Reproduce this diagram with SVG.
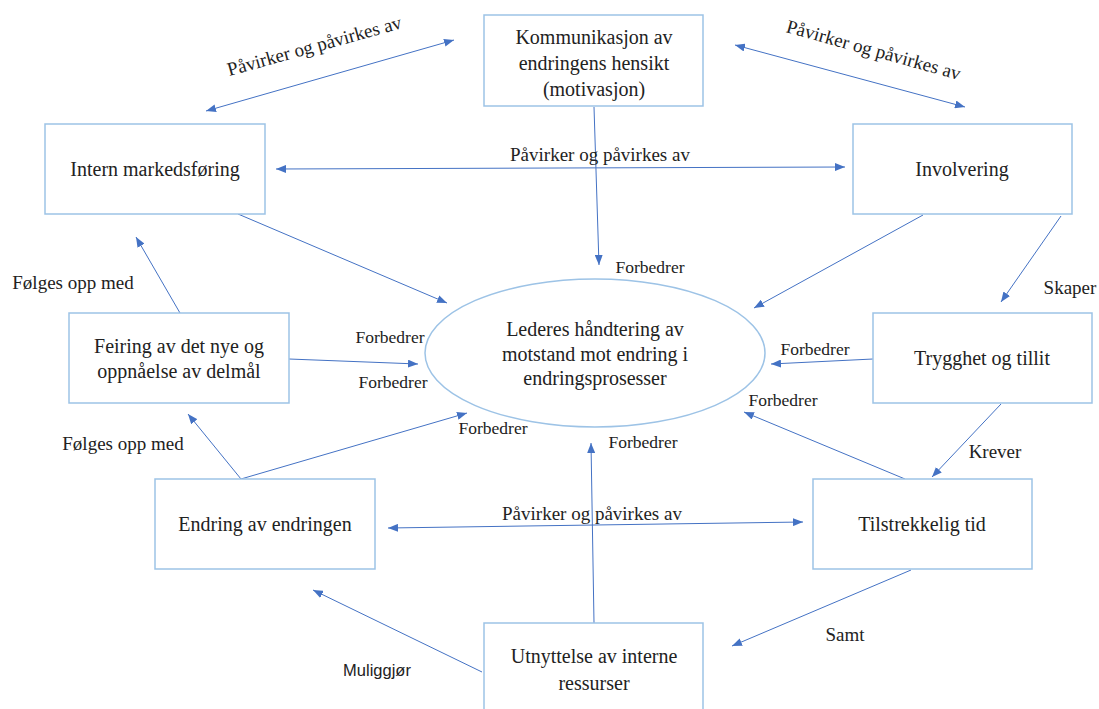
<svg xmlns="http://www.w3.org/2000/svg" width="1099" height="709" viewBox="0 0 1099 709">
  <defs>
    <marker id="arrow" viewBox="0 0 10 8" refX="10" refY="4" markerWidth="10" markerHeight="8" markerUnits="userSpaceOnUse" orient="auto-start-reverse">
      <path d="M0,0 L10,4 L0,8 Z" fill="#4472C4"/>
    </marker>
    <style>
      .box { fill: #ffffff; stroke: #9DC3E6; stroke-width: 1.5; }
      .ell { fill: #ffffff; stroke: #9DC3E6; stroke-width: 1.5; }
      .t { font-family: "Liberation Serif", "Times New Roman", serif; font-size: 20px; fill: #222222; text-anchor: middle; }
      .lbl { font-family: "Liberation Serif", "Times New Roman", serif; font-size: 19px; fill: #222222; text-anchor: middle; }
      .small { font-family: "Liberation Serif", "Times New Roman", serif; font-size: 17.5px; fill: #222222; text-anchor: middle; }
      .sans { font-family: "Liberation Sans", Arial, sans-serif; font-size: 16.5px; fill: #222222; text-anchor: middle; }
      .c { fill: none; stroke: #4472C4; stroke-width: 1; }
      .one { marker-end: url(#arrow); }
      .two { marker-start: url(#arrow); marker-end: url(#arrow); }
    </style>
  </defs>

  <rect width="1099" height="709" fill="#ffffff"/>

  <!-- connectors -->
  <g id="connectors">
    <line class="c two" x1="206" y1="111" x2="454" y2="40"/>
    <line class="c two" x1="735" y1="45" x2="965" y2="107"/>
    <line class="c two" x1="276" y1="169" x2="845" y2="167"/>
    <line class="c one" x1="594" y1="107" x2="599" y2="265"/>
    <line class="c one" x1="238" y1="214" x2="447" y2="303"/>
    <line class="c one" x1="923" y1="215" x2="754" y2="308"/>
    <line class="c one" x1="1061" y1="216" x2="1001" y2="302"/>
    <line class="c one" x1="873" y1="359" x2="771" y2="364"/>
    <line class="c one" x1="905" y1="479" x2="744" y2="412"/>
    <line class="c one" x1="1001" y1="404" x2="932" y2="477"/>
    <line class="c one" x1="911" y1="570" x2="732" y2="646"/>
    <line class="c one" x1="482" y1="672" x2="313" y2="590"/>
    <line class="c one" x1="594" y1="623" x2="591" y2="443"/>
    <line class="c one" x1="241" y1="479" x2="188" y2="414"/>
    <line class="c one" x1="241" y1="479" x2="467" y2="413"/>
    <line class="c one" x1="289" y1="359" x2="418" y2="364"/>
    <line class="c one" x1="180" y1="313" x2="136" y2="237"/>
    <line class="c two" x1="388" y1="528" x2="803" y2="522"/>

    <!-- connector labels -->
    <text class="lbl" transform="translate(316,52) rotate(-15.5)">Påvirker og påvirkes av</text>
    <text class="lbl" transform="translate(872,56) rotate(15.5)">Påvirker og påvirkes av</text>
    <text class="lbl" x="600" y="161">Påvirker og påvirkes av</text>
    <text class="lbl" x="592" y="520">Påvirker og påvirkes av</text>
    <text class="small" x="650" y="273">Forbedrer</text>
    <text class="small" x="390" y="343">Forbedrer</text>
    <text class="small" x="393" y="388">Forbedrer</text>
    <text class="small" x="815" y="355">Forbedrer</text>
    <text class="small" x="783" y="406">Forbedrer</text>
    <text class="small" x="493" y="434">Forbedrer</text>
    <text class="small" x="643" y="448">Forbedrer</text>
    <text class="lbl" x="73" y="289">Følges opp med</text>
    <text class="lbl" x="123" y="450">Følges opp med</text>
    <text class="lbl" x="995" y="458">Krever</text>
    <text class="lbl" x="845" y="641">Samt</text>
    <text class="lbl" x="1070" y="294">Skaper</text>
    <text class="sans" x="377" y="676">Muliggjør</text>
  </g>

  <!-- nodes -->
  <g id="kommunikasjon">
    <rect class="box" x="484" y="15" width="219" height="91"/>
    <text class="t" x="594" y="44">Kommunikasjon av</text>
    <text class="t" x="594" y="70">endringens hensikt</text>
    <text class="t" x="594" y="96">(motivasjon)</text>
  </g>
  <g id="intern-markedsforing">
    <rect class="box" x="45" y="124" width="220" height="90"/>
    <text class="t" x="155" y="176">Intern markedsføring</text>
  </g>
  <g id="involvering">
    <rect class="box" x="853" y="124" width="219" height="90"/>
    <text class="t" x="962" y="176">Involvering</text>
  </g>
  <g id="lederes-handtering">
    <ellipse class="ell" cx="595" cy="353" rx="170" ry="74"/>
    <text class="t" x="595" y="336">Lederes håndtering av</text>
    <text class="t" x="595" y="361">motstand mot endring i</text>
    <text class="t" x="595" y="385">endringsprosesser</text>
  </g>
  <g id="feiring">
    <rect class="box" x="69" y="313" width="220" height="90"/>
    <text class="t" x="179" y="353">Feiring av det nye og</text>
    <text class="t" x="179" y="378">oppnåelse av delmål</text>
  </g>
  <g id="trygghet">
    <rect class="box" x="873" y="313" width="219" height="90"/>
    <text class="t" x="982" y="365">Trygghet og tillit</text>
  </g>
  <g id="endring-av-endringen">
    <rect class="box" x="155" y="479" width="220" height="90"/>
    <text class="t" x="265" y="531">Endring av endringen</text>
  </g>
  <g id="tilstrekkelig-tid">
    <rect class="box" x="813" y="479" width="219" height="90"/>
    <text class="t" x="922" y="531">Tilstrekkelig tid</text>
  </g>
  <g id="utnyttelse">
    <rect class="box" x="484" y="623" width="219" height="100"/>
    <text class="t" x="594" y="663">Utnyttelse av interne</text>
    <text class="t" x="594" y="690">ressurser</text>
  </g>
</svg>
